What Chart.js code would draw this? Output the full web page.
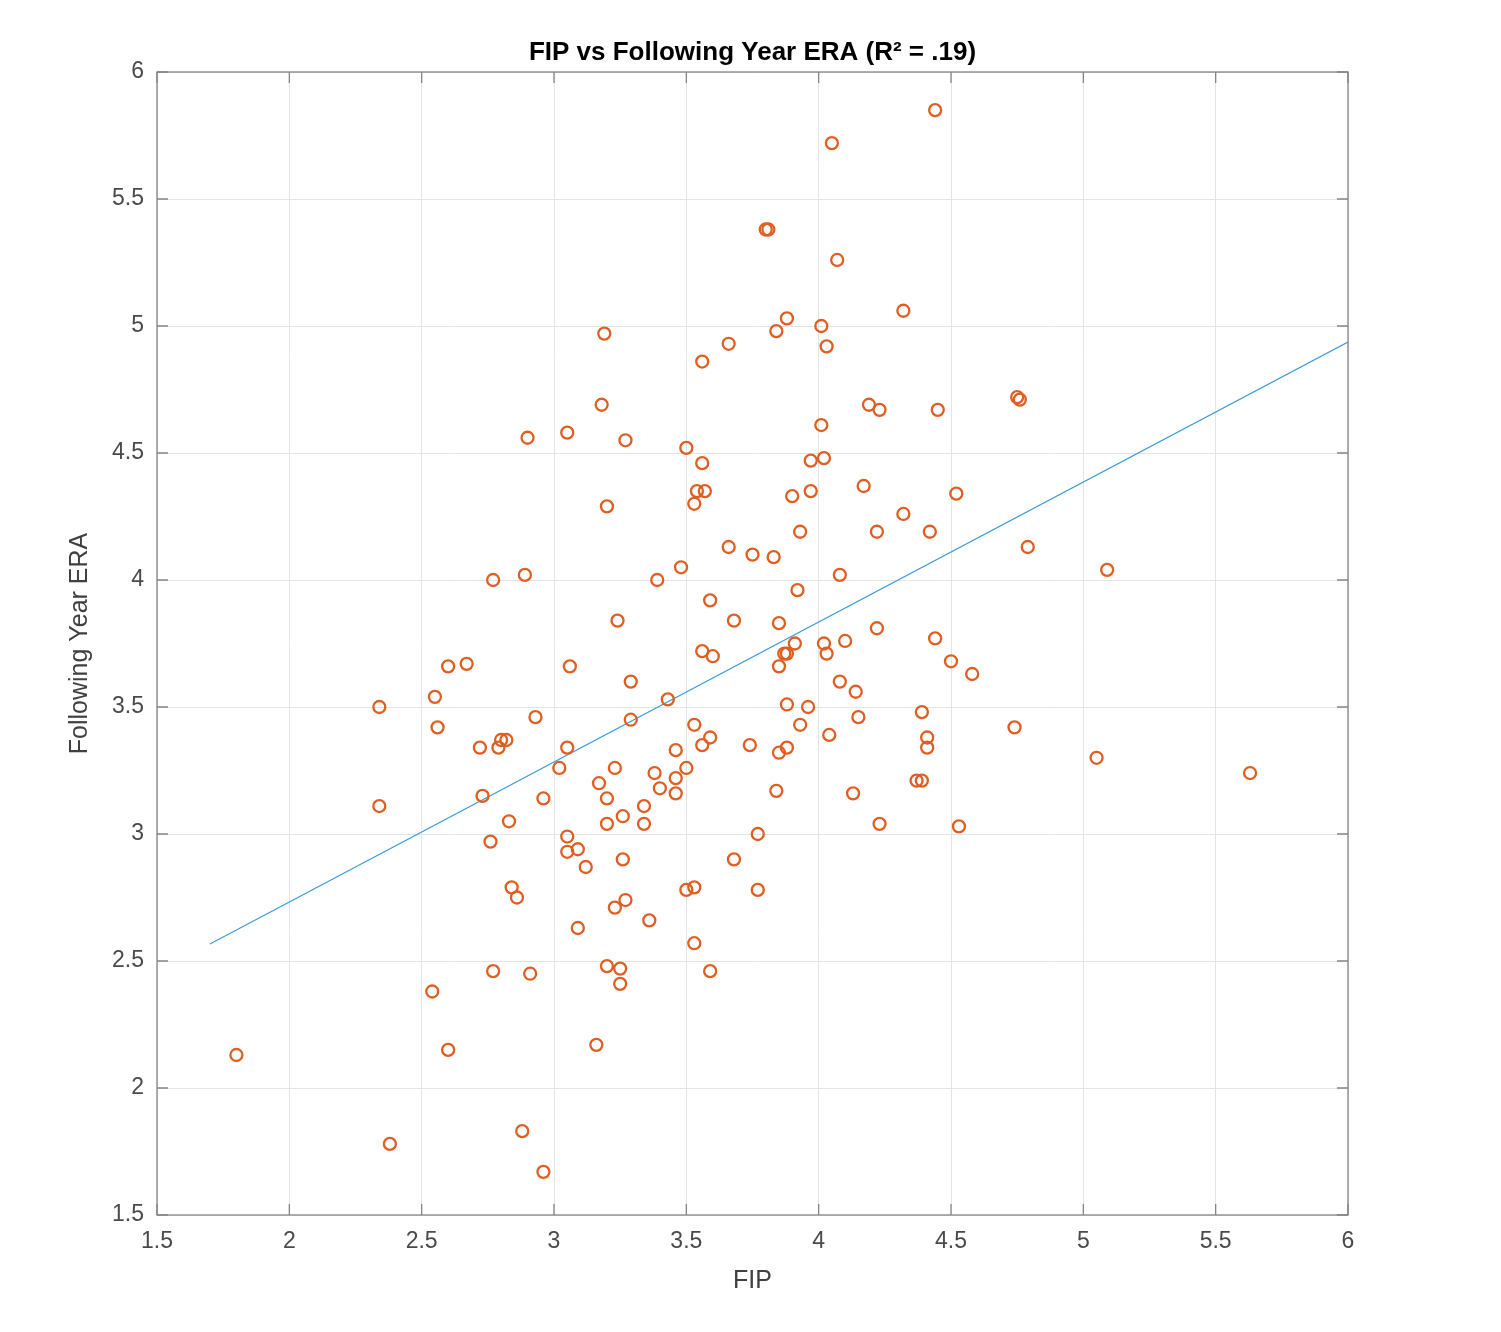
<!DOCTYPE html>
<html>
<head>
<meta charset="utf-8">
<script src="https://cdn.jsdelivr.net/npm/chart.js@4.4.1/dist/chart.umd.min.js"></script>
<style>
  html, body { margin: 0; padding: 0; background: #fff; }
  #wrap { width: 1501px; height: 1332px; }
</style>
</head>
<body>
<div id="wrap"><canvas id="fipChart" width="1501" height="1332"></canvas></div>
<script>
// FIP (x) and following year ERA (y)
var fip = [
  1.80, 2.38, 2.34, 2.34, 2.55, 2.56, 2.60, 2.67, 2.54, 2.60,
  2.72, 2.73, 2.77, 2.76, 2.79, 2.80, 2.82, 2.83, 2.84, 2.86,
  2.77, 2.88, 2.90, 2.89, 2.93, 2.91, 2.96, 2.96, 3.05, 3.06,
  3.02, 3.05, 3.05, 3.05, 3.09, 3.12, 3.09, 3.16, 3.17, 3.18,
  3.19, 3.20, 3.24, 3.20, 3.20, 3.23, 3.26, 3.26, 3.27, 3.23,
  3.27, 3.20, 3.25, 3.25, 3.29, 3.29, 3.34, 3.34, 3.36, 3.38,
  3.40, 3.39, 3.43, 3.46, 3.46, 3.46, 3.50, 3.48, 3.50, 3.50,
  3.53, 3.53, 3.53, 3.53, 3.54, 3.57, 3.56, 3.56, 3.56, 3.60,
  3.59, 3.56, 3.59, 3.59, 3.66, 3.66, 3.68, 3.68, 3.74, 3.75,
  3.77, 3.77, 3.80, 3.81, 3.83, 3.84, 3.88, 3.85, 3.92, 3.91,
  3.87, 3.88, 3.85, 4.02, 4.03, 4.10, 4.22, 4.44, 4.50, 4.58,
  3.88, 3.96, 4.08, 4.14, 3.93, 4.15, 4.04, 4.39, 4.41, 4.41,
  4.37, 4.39, 3.88, 3.85, 3.84, 4.13, 4.23, 4.53, 4.74, 3.97,
  4.02, 4.01, 3.97, 3.90, 3.93, 4.08, 4.01, 4.03, 4.05, 4.07,
  4.19, 4.23, 4.17, 4.32, 4.22, 4.42, 4.32, 4.44, 4.45, 4.52,
  4.75, 4.76, 4.79, 5.09, 5.05, 5.63
];
var nextEra = [
  2.13, 1.78, 3.50, 3.11, 3.54, 3.42, 3.66, 3.67, 2.38, 2.15,
  3.34, 3.15, 4.00, 2.97, 3.34, 3.37, 3.37, 3.05, 2.79, 2.75,
  2.46, 1.83, 4.56, 4.02, 3.46, 2.45, 3.14, 1.67, 4.58, 3.66,
  3.26, 3.34, 2.99, 2.93, 2.94, 2.87, 2.63, 2.17, 3.20, 4.69,
  4.97, 4.29, 3.84, 3.14, 3.04, 3.26, 3.07, 2.90, 4.55, 2.71,
  2.74, 2.48, 2.47, 2.41, 3.60, 3.45, 3.11, 3.04, 2.66, 3.24,
  3.18, 4.00, 3.53, 3.33, 3.22, 3.16, 3.26, 4.05, 4.52, 2.78,
  2.79, 2.57, 3.43, 4.30, 4.35, 4.35, 4.46, 4.86, 3.72, 3.70,
  3.92, 3.35, 3.38, 2.46, 4.93, 4.13, 3.84, 2.90, 3.35, 4.10,
  3.00, 2.78, 5.38, 5.38, 4.09, 4.98, 5.03, 3.83, 3.96, 3.75,
  3.71, 3.71, 3.66, 3.75, 3.71, 3.76, 3.81, 3.77, 3.68, 3.63,
  3.51, 3.50, 3.60, 3.56, 3.43, 3.46, 3.39, 3.48, 3.38, 3.34,
  3.21, 3.21, 3.34, 3.32, 3.17, 3.16, 3.04, 3.03, 3.42, 4.47,
  4.48, 4.61, 4.35, 4.33, 4.19, 4.02, 5.00, 4.92, 5.72, 5.26,
  4.69, 4.67, 4.37, 4.26, 4.19, 4.19, 5.06, 5.85, 4.67, 4.34,
  4.72, 4.71, 4.13, 4.04, 3.30, 3.24
];
// ends of the fitted line
var fitX = [1.70, 6.00];
var fitY = [2.567, 4.937];

var xTicks = [1.5, 2, 2.5, 3, 3.5, 4, 4.5, 5, 5.5, 6];
var yTicks = [1.5, 2, 2.5, 3, 3.5, 4, 4.5, 5, 5.5, 6];

var points = fip.map(function (v, i) { return { x: v, y: nextEra[i] }; });
var fitLine = fitX.map(function (v, i) { return { x: v, y: fitY[i] }; });

// MATLAB-like box with ticks pointing inward
var boxTicks = {
  id: 'boxTicks',
  beforeDatasetsDraw: function (chart) {
    var ctx = chart.ctx, a = chart.chartArea;
    var sx = chart.scales.x, sy = chart.scales.y;
    var len = 11;
    ctx.save();
    ctx.strokeStyle = '#858585';
    ctx.lineWidth = 1.3;
    ctx.strokeRect(a.left, a.top, a.right - a.left, a.bottom - a.top);
    ctx.beginPath();
    sx.ticks.forEach(function (t) {
      var px = sx.getPixelForValue(t.value);
      ctx.moveTo(px, a.bottom); ctx.lineTo(px, a.bottom - len);
      ctx.moveTo(px, a.top); ctx.lineTo(px, a.top + len);
    });
    sy.ticks.forEach(function (t) {
      var py = sy.getPixelForValue(t.value);
      ctx.moveTo(a.left, py); ctx.lineTo(a.left + len, py);
      ctx.moveTo(a.right, py); ctx.lineTo(a.right - len, py);
    });
    ctx.stroke();
    ctx.restore();
  }
};

var tickLabel = function (value) { return String(value); };
var fontFamily = 'Liberation Sans, Arial, sans-serif';

var ctx = document.getElementById('fipChart');
var fipChart = new Chart(ctx, {
  type: 'scatter',
  data: {
    datasets: [
      {
        label: 'FIP vs ERA',
        data: points,
        pointStyle: 'circle',
        pointRadius: 6,
        pointHoverRadius: 6,
        borderWidth: 2.3,
        borderColor: '#DF5E22',
        backgroundColor: 'rgba(0,0,0,0)'
      },
      {
        label: 'fit',
        type: 'line',
        data: fitLine,
        showLine: true,
        pointRadius: 0,
        borderWidth: 1.2,
        borderColor: '#3a9bd8',
        fill: false
      }
    ]
  },
  options: {
    responsive: false,
    animation: false,
    devicePixelRatio: 1,
    layout: { padding: { left: 0, right: 153, top: 0, bottom: 0 } },
    plugins: {
      legend: { display: false },
      tooltip: { enabled: false }
    },
    scales: {
      x: {
        type: 'linear',
        min: 1.5,
        max: 6,
        afterBuildTicks: function (scale) { scale.ticks = xTicks.map(function (v) { return { value: v }; }); },
        afterFit: function (scale) { scale.height = 117; },
        grid: { color: '#e4e4e4', lineWidth: 1, drawTicks: false },
        border: { display: false },
        ticks: {
          color: '#4a4a4a',
          padding: 13,
          callback: tickLabel,
          font: { family: fontFamily, size: 23 }
        },
        title: {
          display: true,
          text: 'FIP',
          color: '#404040',
          font: { family: fontFamily, size: 25 },
          padding: { top: 0, bottom: 36 }
        }
      },
      // top axis only carries the chart title, centred over the plot box
      top: {
        type: 'linear',
        position: 'top',
        afterFit: function (scale) { scale.height = 72; },
        grid: { display: false, drawTicks: false },
        border: { display: false },
        ticks: { display: false },
        title: {
          display: true,
          text: 'FIP vs Following Year ERA (R\u00B2 = .19)',
          color: '#000',
          font: { family: fontFamily, size: 26, weight: 'bold' },
          padding: { top: 37, bottom: 0 }
        }
      },
      y: {
        type: 'linear',
        min: 1.5,
        max: 6,
        afterBuildTicks: function (scale) { scale.ticks = yTicks.map(function (v) { return { value: v }; }); },
        afterFit: function (scale) { scale.width = 157; },
        grid: { color: '#e4e4e4', lineWidth: 1, drawTicks: false },
        border: { display: false },
        ticks: {
          color: '#4a4a4a',
          padding: 13,
          callback: tickLabel,
          font: { family: fontFamily, size: 23 }
        },
        title: {
          display: true,
          text: 'Following Year ERA',
          color: '#404040',
          font: { family: fontFamily, size: 25 },
          padding: { top: 65, bottom: 0 }
        }
      }
    }
  },
  plugins: [boxTicks]
});
</script>
</body>
</html>
